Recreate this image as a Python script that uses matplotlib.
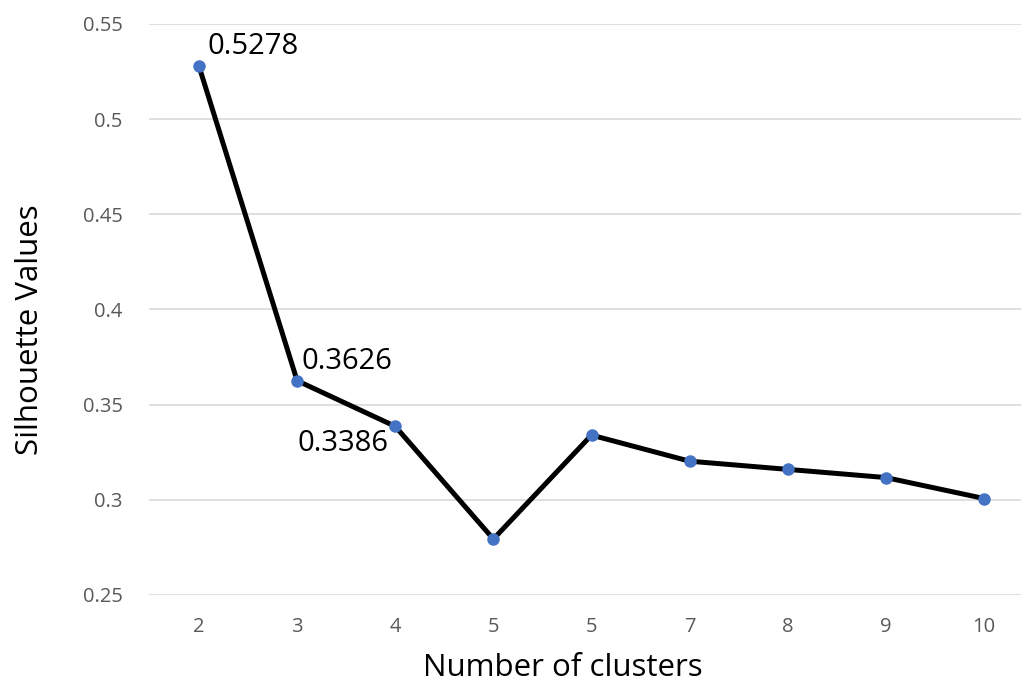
import matplotlib
matplotlib.use("Agg")
from matplotlib import pyplot as plt

plt.rcParams['font.family'] = ['Open Sans', 'DejaVu Sans']

clusters = ["2", "3", "4", "5", "5", "7", "8", "9", "10"]
silhouette = [0.5278, 0.3626, 0.3386, 0.2794, 0.3340, 0.3203, 0.3160, 0.3117, 0.3007]
labelled = {0: "0.5278", 1: "0.3626", 2: "0.3386"}

W, H = 1021, 684
fig = plt.figure(figsize=(W / 100, H / 100), dpi=100)
ax = fig.add_axes([149 / W, 89 / H, (W - 149) / W, (595 - 24) / H])

x = list(range(len(clusters)))
ax.plot(x, silhouette, color='black', linewidth=3.6, zorder=3,
        marker='o', markersize=8, markerfacecolor='#4472C4',
        markeredgecolor='#4472C4')

offsets = {0: (8, 20, 'left'), 1: (4, 19, 'left'), 2: (-7, -17, 'right')}
for i, txt in labelled.items():
    dx, dy, ha = offsets[i]
    ax.annotate(txt, (x[i], silhouette[i]), xytext=(dx, dy),
                textcoords='offset pixels', ha=ha, va='center',
                fontsize=21, color='black', zorder=4)

step = (984 - 199) / 8
ax.set_xlim(-(199 - 149) / step, 8 + (W - 984) / step)
ax.set_ylim(0.25, 0.55)
ax.set_yticks([0.25, 0.3, 0.35, 0.4, 0.45, 0.5, 0.55])
ax.set_yticklabels(["0.25", "0.3", "0.35", "0.4", "0.45", "0.5", "0.55"])
ax.set_xticks(x)
ax.set_xticklabels(clusters)
ax.tick_params(axis='both', length=0, labelsize=14.5, labelcolor='#595959')
ax.tick_params(axis='x', pad=16)
ax.tick_params(axis='y', pad=19)
ax.grid(axis='y', color='#d9d9d9', linewidth=1.2)
ax.set_axisbelow(True)
for s in ax.spines.values():
    s.set_visible(False)

fig.text(30 / W, 1 - 330 / H, "Silhouette Values", rotation=90,
         ha='center', va='center', fontsize=22.5)
fig.text(563 / W, 1 - 668 / H, "Number of clusters",
         ha='center', va='center', fontsize=22.5)

fig.savefig('out.png', dpi=100)
